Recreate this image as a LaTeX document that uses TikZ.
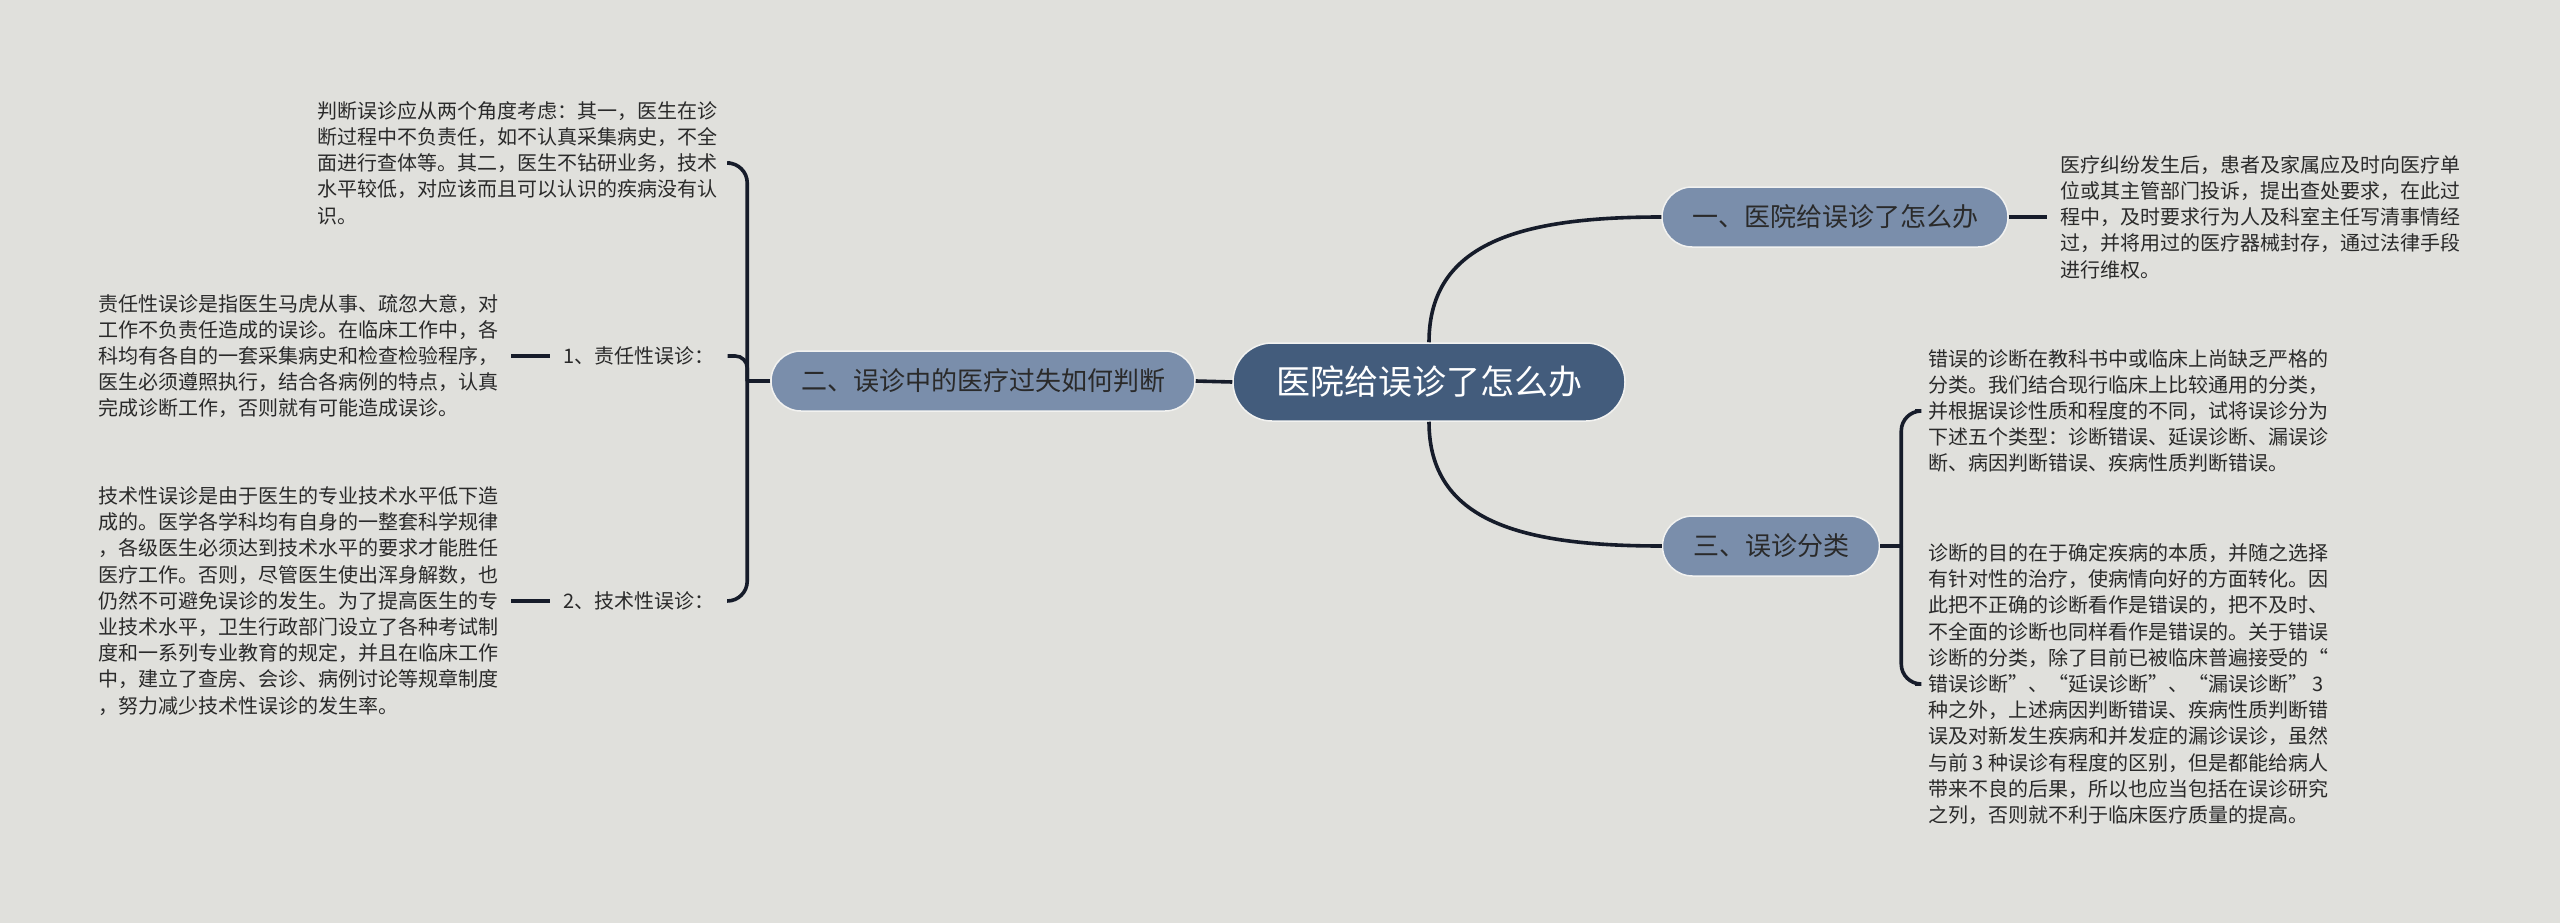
\documentclass[tikz,border=0pt]{standalone}
\usepackage{fontspec}
\newfontfamily\cjk{Noto Sans CJK SC}
\definecolor{bg}{HTML}{E0E0DC}
\definecolor{mainfill}{HTML}{435C7C}
\definecolor{subfill}{HTML}{7A8EAB}
\definecolor{linec}{HTML}{161C2A}
\definecolor{txt}{HTML}{2A2A2A}
\definecolor{edge}{HTML}{F2F2F0}
\tikzset{
 rootbox/.style={draw=edge, line width=1.5pt, fill=mainfill, rounded corners=39pt, minimum width=392pt, minimum height=78pt, inner sep=0pt, text=white, font=\cjk\fontsize{34}{40}\selectfont},
 subbox/.style={draw=edge, line width=1.5pt, fill=subfill, rounded corners=30pt, minimum height=60pt, inner sep=0pt, text=txt, font=\cjk\fontsize{26}{30}\selectfont},
 para/.style={align=left, inner xsep=13pt, inner ysep=3pt, text=txt, font=\cjk\fontsize{20}{26.2}\selectfont},
 lab/.style={inner xsep=13pt, inner ysep=3pt, text=txt, font=\cjk\fontsize{20}{24}\selectfont},
 conn/.style={draw=linec, line width=3.6pt},
}
\begin{document}
\begin{tikzpicture}[x=1pt,y=-1pt]
\fill[bg] (0,0) rectangle (2560,923);
\useasboundingbox (0,0) rectangle (2560,923);

% main nodes
\node[rootbox] (c) at (1429,382) {医院给误诊了怎么办};
\node[subbox, minimum width=346pt] (n1) at (1835,217) {一、医院给误诊了怎么办};
\node[subbox, minimum width=217pt] (n3) at (1771,546) {三、误诊分类};
\node[subbox, minimum width=424pt] (n2) at (983,381) {二、误诊中的医疗过失如何判断};

% right texts
\node[para, anchor=west] (t1) at (2047,217) {医疗纠纷发生后，患者及家属应及时向医疗单\\位或其主管部门投诉，提出查处要求，在此过\\程中，及时要求行为人及科室主任写清事情经\\过，并将用过的医疗器械封存，通过法律手段\\进行维权。};
\node[para, anchor=west] (a3) at (1915,411) {错误的诊断在教科书中或临床上尚缺乏严格的\\分类。我们结合现行临床上比较通用的分类，\\并根据误诊性质和程度的不同，试将误诊分为\\下述五个类型：诊断错误、延误诊断、漏误诊\\断、病因判断错误、疾病性质判断错误。};
\node[para, anchor=west] (b3) at (1915,684) {诊断的目的在于确定疾病的本质，并随之选择\\有针对性的治疗，使病情向好的方面转化。因\\此把不正确的诊断看作是错误的，把不及时、\\不全面的诊断也同样看作是错误的。关于错误\\诊断的分类，除了目前已被临床普遍接受的“\\错误诊断”、“延误诊断”、“漏误诊断” 3\\种之外，上述病因判断错误、疾病性质判断错\\误及对新发生疾病和并发症的漏诊误诊，虽然\\与前 3 种误诊有程度的区别，但是都能给病人\\带来不良的后果，所以也应当包括在误诊研究\\之列，否则就不利于临床医疗质量的提高。};

% left texts
\node[para, anchor=west] (ptop) at (304,163) {判断误诊应从两个角度考虑：其一，医生在诊\\断过程中不负责任，如不认真采集病史，不全\\面进行查体等。其二，医生不钻研业务，技术\\水平较低，对应该而且可以认识的疾病没有认\\识。};
\node[lab, anchor=west] (l1) at (550,356) {1、责任性误诊：};
\node[lab, anchor=west] (l2) at (550,601) {2、技术性误诊：};
\node[para, anchor=west] (p1) at (85,356) {责任性误诊是指医生马虎从事、疏忽大意，对\\工作不负责任造成的误诊。在临床工作中，各\\科均有各自的一套采集病史和检查检验程序，\\医生必须遵照执行，结合各病例的特点，认真\\完成诊断工作，否则就有可能造成误诊。};
\node[para, anchor=west] (p2) at (85,601) {技术性误诊是由于医生的专业技术水平低下造\\成的。医学各学科均有自身的一整套科学规律\\，各级医生必须达到技术水平的要求才能胜任\\医疗工作。否则，尽管医生使出浑身解数，也\\仍然不可避免误诊的发生。为了提高医生的专\\业技术水平，卫生行政部门设立了各种考试制\\度和一系列专业教育的规定，并且在临床工作\\中，建立了查房、会诊、病例讨论等规章制度\\，努力减少技术性误诊的发生率。};

% connectors
\draw[conn] (c.west) -- (n2.east);
\draw[conn] (c.north) .. controls +(0,-100) and +(-140,0) .. (n1.west);
\draw[conn] (c.south) .. controls +(0,100) and +(-140,0) .. (n3.west);
\draw[conn] (n1.east) -- (t1.west);

\coordinate (jR) at ([xshift=21pt]n3.east);
\draw[conn] (n3.east) -- (jR);
\draw[conn, rounded corners=20pt] (jR) |- (a3.west);
\draw[conn, rounded corners=20pt] (jR) |- (b3.west);

\coordinate (jL) at ([xshift=-23pt]n2.west);
\draw[conn] (n2.west) -- (jL);
\draw[conn, rounded corners=20pt] (jL) |- (ptop.east);
\draw[conn, rounded corners=12pt] (jL) |- (l1.east);
\draw[conn, rounded corners=20pt] (jL) |- (l2.east);
\draw[conn] (p1.east) -- (l1.west);
\draw[conn] (p2.east) -- (l2.west);
\end{tikzpicture}
\end{document}
